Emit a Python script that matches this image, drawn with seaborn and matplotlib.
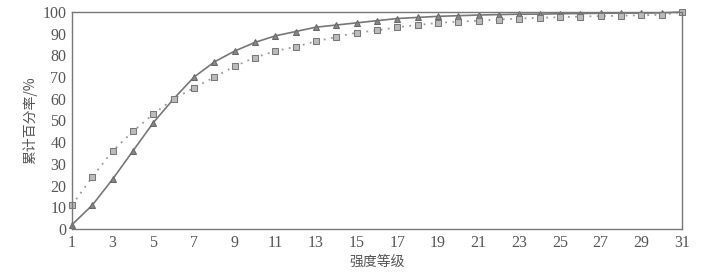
import pandas as pd
import matplotlib
matplotlib.use("Agg")
import matplotlib.pyplot as plt
import seaborn as sns

# Data
grade = list(range(1, 32))
tri_vals = [2, 11, 23, 36, 49, 60, 70, 77, 82, 86, 89, 91, 93, 94, 95, 96, 97, 97.5, 98,
            98.3, 98.6, 98.8, 99, 99, 99.2, 99.3, 99.4, 99.5, 99.5, 99.6, 100]
sq_vals = [11, 24, 36, 45, 53, 60, 65, 70, 75, 79, 82, 84, 86.5, 88.5, 90.5, 91.5, 93, 94,
           95, 95.5, 96, 96.5, 97, 97.3, 97.6, 97.9, 98.1, 98.3, 98.5, 98.7, 100]
x_ticks = list(range(1, 32, 2))
y_ticks = list(range(0, 101, 10))

df = pd.DataFrame({"grade": grade, "tri": tri_vals, "sq": sq_vals})

sns.set_style("white")
plt.rcParams["font.family"] = ["Liberation Serif", "Noto Sans CJK SC", "DejaVu Sans"]

fig = plt.figure(figsize=(7.14, 2.73), dpi=100)
ax = fig.add_axes([72 / 714, 1 - 229 / 273, (682 - 72) / 714, (229 - 12) / 273])

sns.lineplot(data=df, x="grade", y="tri", ax=ax, color="#777777", lw=1.2, clip_on=False,
             marker="^", markersize=4, markerfacecolor="#888888", markeredgecolor="#666666")
sns.lineplot(data=df, x="grade", y="sq", ax=ax, color="#999999", lw=1.3, linestyle=(0, (1, 3)),
             clip_on=False, marker="s", markersize=4.5, markerfacecolor="#bbbbbb",
             markeredgecolor="#777777")

ax.set_xlim(1, 31)
ax.set_ylim(0, 100)
ax.set_xticks(grade)
ax.set_xticklabels([str(g) if g in x_ticks else "" for g in grade])
ax.set_yticks(y_ticks)
ax.tick_params(axis="x", direction="in", length=4, color="#666666", labelsize=11.5,
               labelcolor="#555555", pad=4)
ax.tick_params(axis="y", direction="in", length=0, labelsize=11.5, labelcolor="#555555", pad=4)
for s in ax.spines.values():
    s.set_color("#777777")
    s.set_linewidth(1.0)
    s.set_visible(True)

ax.set_xlabel("强度等级", fontsize=10, color="#555555", family=["Noto Sans CJK SC"], labelpad=3)
ax.set_ylabel("累计百分率/%", fontsize=10, color="#555555", family=["Noto Sans CJK SC"], labelpad=4)

fig.savefig("out.png", dpi=100)
